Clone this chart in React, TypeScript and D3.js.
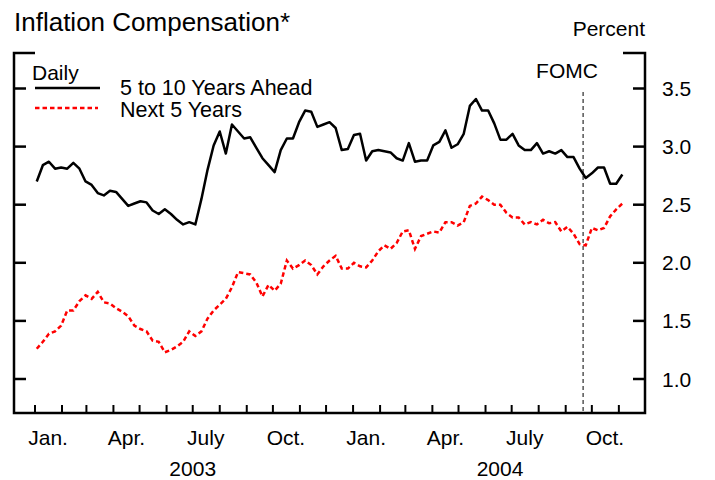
import React from "react";
import * as d3 from "d3";

// weekly (Friday) observations, Jan 3 2003 .. Nov 5 2004
const weeks = d3.timeFriday.range(new Date(2003, 0, 3), new Date(2004, 10, 6));

const fiveToTen = [
  2.70, 2.84, 2.87, 2.81, 2.82, 2.81, 2.86, 2.81, 2.70, 2.67,
  2.60, 2.58, 2.62, 2.61, 2.55, 2.49, 2.51, 2.53, 2.52, 2.45,
  2.42, 2.46, 2.42, 2.37, 2.33, 2.35, 2.33, 2.55, 2.80, 3.01,
  3.13, 2.94, 3.19, 3.13, 3.07, 3.08, 2.99, 2.90, 2.84, 2.78,
  2.97, 3.07, 3.07, 3.21, 3.31, 3.30, 3.17, 3.19, 3.21, 3.16,
  2.97, 2.98, 3.10, 3.11, 2.88, 2.96, 2.97, 2.96, 2.95, 2.90,
  2.88, 3.03, 2.87, 2.88, 2.88, 3.01, 3.04, 3.14, 2.99, 3.02,
  3.11, 3.35, 3.41, 3.31, 3.31, 3.20, 3.06, 3.06, 3.11, 3.01,
  2.97, 2.97, 3.03, 2.94, 2.96, 2.94, 2.97, 2.91, 2.91, 2.81,
  2.73, 2.77, 2.82, 2.82, 2.68, 2.68, 2.76,
];

const nextFive = [
  1.26, 1.32, 1.39, 1.41, 1.46, 1.59, 1.59, 1.67, 1.72, 1.69,
  1.75, 1.66, 1.65, 1.61, 1.58, 1.54, 1.46, 1.43, 1.41, 1.33,
  1.32, 1.23, 1.25, 1.28, 1.32, 1.41, 1.37, 1.41, 1.52, 1.59,
  1.64, 1.69, 1.79, 1.92, 1.91, 1.90, 1.83, 1.71, 1.81, 1.76,
  1.82, 2.02, 1.95, 1.98, 2.02, 1.98, 1.90, 1.97, 2.02, 2.06,
  1.95, 1.95, 2.00, 1.97, 1.96, 2.02, 2.10, 2.15, 2.12, 2.17,
  2.27, 2.28, 2.12, 2.23, 2.25, 2.27, 2.26, 2.35, 2.35, 2.32,
  2.35, 2.49, 2.51, 2.57, 2.54, 2.50, 2.50, 2.43, 2.39, 2.39,
  2.33, 2.35, 2.33, 2.37, 2.34, 2.35, 2.27, 2.31, 2.25, 2.16,
  2.15, 2.30, 2.28, 2.30, 2.40, 2.46, 2.51,
];

const yTicks = [1.0, 1.5, 2.0, 2.5, 3.0, 3.5];
const monthLabels = ["Jan.", "Apr.", "July", "Oct."];
const years = [2003, 2004];
const fomcDate = new Date(2004, 8, 21);

const font = "'Liberation Sans', Arial, Helvetica, sans-serif";

export default function App() {
  const left = 14, right = 645, top = 53, bottom = 413;

  const x = d3.scaleTime()
    .domain([new Date(2003, 0, 1), new Date(2004, 11, 1)])
    .range([35, 645]);
  const y = d3.scaleLinear().domain([1, 3.5]).range([379, 88.5]);

  const line = d3.line<number>()
    .x((d, i) => x(weeks[i]))
    .y(d => y(d));

  const months = d3.timeMonth.range(new Date(2003, 0, 1), new Date(2004, 11, 1));
  const labelled = months.filter(m => m.getMonth() % 3 === 0);

  return (
    <svg width={715} height={480} style={{ position: "absolute", left: 0, top: 0 }}
      fontFamily={font}>
      <rect width={715} height={480} fill="white" />
      <text x={14} y={31} fontSize={26}>Inflation Compensation*</text>
      <text x={645} y={36} fontSize={21} textAnchor="end">Percent</text>

      {/* frame */}
      <g stroke="black" strokeWidth={2.5} fill="none">
        <path d={`M${left + 21},${top}H${left}V${bottom}H${right}V${top}H${right - 22}`} />
        {yTicks.map(t => (
          <g key={t}>
            <line x1={left} x2={left + 12} y1={y(t)} y2={y(t)} />
            <line x1={right - 12} x2={right} y1={y(t)} y2={y(t)} />
          </g>
        ))}
        {months.map(m => (
          <line key={+m} x1={x(m)} x2={x(m)} y1={bottom} y2={bottom - 8} strokeWidth={2} />
        ))}
      </g>

      {yTicks.map(t => (
        <text key={t} x={662} y={y(t)} dy="0.36em" fontSize={21}>{t.toFixed(1)}</text>
      ))}
      {labelled.map(m => (
        <text key={+m} x={x(d3.timeDay.offset(m, 15))} y={445} fontSize={21} textAnchor="middle">
          {monthLabels[m.getMonth() / 3]}
        </text>
      ))}
      {years.map(yr => (
        <text key={yr} x={yr === 2003 ? x(new Date(2003, 6, 1)) : 500} y={476}
          fontSize={21} textAnchor="middle">{yr}</text>
      ))}

      {/* FOMC marker */}
      <line x1={x(fomcDate)} x2={x(fomcDate)} y1={92} y2={bottom - 1}
        stroke="#555" strokeWidth={1.5} strokeDasharray="4 3" />
      <text x={567} y={78} fontSize={21} textAnchor="middle">FOMC</text>

      {/* legend */}
      <text x={32} y={80} fontSize={21}>Daily</text>
      <line x1={35} x2={100} y1={88} y2={88} stroke="black" strokeWidth={2.5} />
      <line x1={35} x2={98} y1={108} y2={108} stroke="red" strokeWidth={2.5} strokeDasharray="4.5 3" />
      <text x={120} y={95} fontSize={21.5}>5 to 10 Years Ahead</text>
      <text x={120} y={117} fontSize={21.5}>Next 5 Years</text>

      <path d={line(fiveToTen) ?? ""} fill="none" stroke="black" strokeWidth={2.5}
        strokeLinejoin="round" />
      <path d={line(nextFive) ?? ""} fill="none" stroke="red" strokeWidth={2.5}
        strokeDasharray="4.5 3" />
    </svg>
  );
}
